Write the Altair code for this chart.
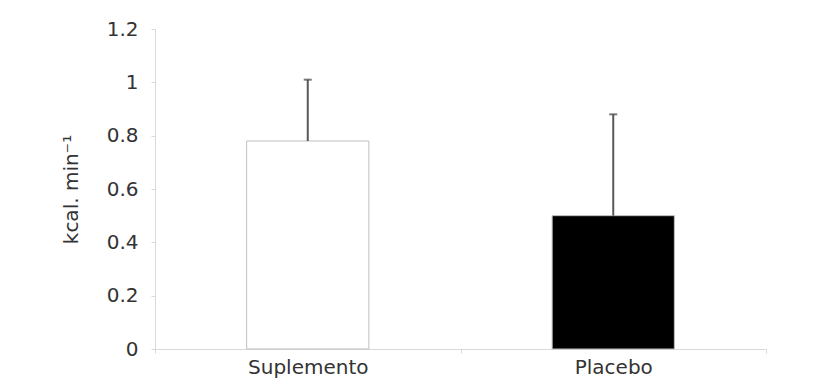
import altair as alt
import pandas as pd

categories = ["Suplemento", "Placebo"]
means = [0.78, 0.50]
upper = [1.01, 0.88]
fills = ["#ffffff", "#000000"]

df = pd.DataFrame({"cat": categories, "mean": means, "upper": upper})

FONT = "DejaVu Sans"

x = alt.X(
    "cat:N",
    sort=categories,
    scale=alt.Scale(paddingInner=0, paddingOuter=0),
    axis=alt.Axis(
        title=None,
        labelAngle=0,
        tickBand="extent",
        tickSize=4,
        labelPadding=4,
        domainColor="#d9d9d9",
        tickColor="#d9d9d9",
        labelColor="#333333",
        labelFont=FONT,
        labelFontSize=20,
    ),
)

y = alt.Y(
    "mean:Q",
    scale=alt.Scale(domain=[0, 1.2], nice=False),
    axis=alt.Axis(
        title="kcal. min⁻¹",
        values=[0, 0.2, 0.4, 0.6, 0.8, 1.0, 1.2],
        format=".1~f",
        grid=False,
        tickSize=4,
        labelPadding=13,
        domainColor="#d9d9d9",
        tickColor="#d9d9d9",
        labelColor="#333333",
        labelFont=FONT,
        labelFontSize=20,
        titleFont=FONT,
        titleFontSize=20,
        titleFontWeight="normal",
        titleColor="#333333",
        titlePadding=25,
    ),
)

bars = alt.Chart(df).mark_bar(
    width=alt.RelativeBandSize(0.4), stroke="#bfbfbf", strokeWidth=1
).encode(
    x=x,
    y=y,
    color=alt.Color("cat:N", scale=alt.Scale(domain=categories, range=fills), legend=None),
)

err = alt.Chart(df).mark_rule(color="#595959", strokeWidth=2).encode(
    x=alt.X("cat:N", sort=categories),
    y="mean:Q",
    y2="upper:Q",
)

cap = alt.Chart(df).mark_tick(color="#404040", thickness=2, size=8, orient="horizontal").encode(
    x=alt.X("cat:N", sort=categories),
    y="upper:Q",
)

chart = (
    alt.layer(bars, err, cap)
    .properties(
        width=611,
        height=320,
        autosize=alt.AutoSizeParams(type="none"),
        padding={"left": 147, "top": 21, "right": 40, "bottom": 29},
        background="#ffffff",
    )
    .configure_view(stroke=None)
)

chart.save("out.html", embed_options={"renderer": "svg", "actions": False})
